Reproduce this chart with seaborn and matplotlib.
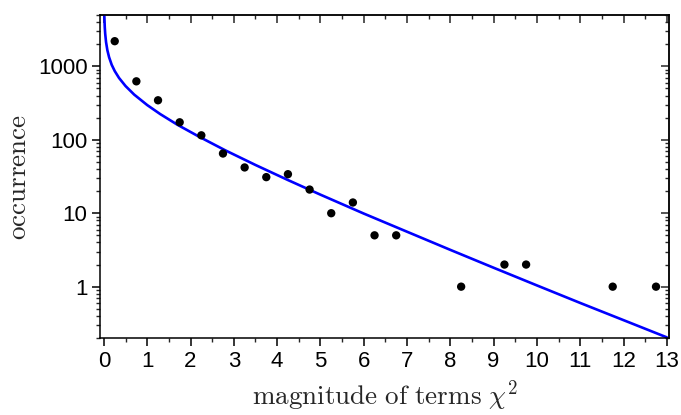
import numpy as np
import pandas as pd
import matplotlib
matplotlib.use("Agg")
import matplotlib.pyplot as plt
import matplotlib.ticker as mticker
import seaborn as sns

# observed histogram (bin centres, counts)
obs_x = [0.25, 0.75, 1.25, 1.75, 2.25, 2.75, 3.25, 3.75, 4.25, 4.75,
         5.25, 5.75, 6.25, 6.75, 8.25, 9.25, 9.75, 11.75, 12.75]
obs_y = [2200, 625, 345, 173, 115, 65, 42, 31, 34, 21,
         10, 14, 5, 5, 1, 2, 2, 1, 1]

# expected curve
fit_x = [0.01, 0.02, 0.03, 0.05, 0.08, 0.12, 0.18, 0.25, 0.35, 0.5, 0.7,
         1.0, 1.3, 1.7, 2.2, 2.8, 3.5, 4.25, 5.0, 6.0, 7.0, 8.0, 9.0,
         10.0, 11.0, 12.0, 13.0]
fit_y = [4860, 3420, 2780, 2130, 1660, 1330, 1050, 863, 694, 539, 412,
         297, 224, 160, 110, 72, 45.4, 28.3, 17.9, 9.9, 5.6, 3.17, 1.81,
         1.04, 0.60, 0.35, 0.204]

x_ticks = list(range(0, 14))
y_ticks = [1, 10, 100, 1000]
y_tick_labels = ["1", "10", "100", "1000"]

sns.set_style("ticks")
plt.rcParams["font.family"] = ["Liberation Sans", "DejaVu Sans"]
plt.rcParams["mathtext.fontset"] = "cm"

fig = plt.figure(figsize=(6.81, 4.15), dpi=100)
ax = fig.add_axes([100 / 681, 1 - 338 / 415, 569 / 681, 323 / 415])

obs = pd.DataFrame({"x": obs_x, "y": obs_y})
fit = pd.DataFrame({"x": fit_x, "y": fit_y})

sns.lineplot(data=fit, x="x", y="y", ax=ax, color="#0000ff", linewidth=1.9,
             estimator=None, sort=True, zorder=2)
sns.scatterplot(data=obs, x="x", y="y", ax=ax, color="black", s=36,
                edgecolor="none", zorder=3)

ax.set_yscale("log")
ax.set_xlim(-0.09, 13.05)
ax.set_ylim(0.2, 5000)

ax.set_xticks(x_ticks)
ax.set_xticklabels([str(t) for t in x_ticks])
ax.xaxis.set_minor_locator(mticker.MultipleLocator(0.5))
ax.set_yticks(y_ticks)
ax.set_yticklabels(y_tick_labels)
ax.yaxis.set_minor_locator(mticker.LogLocator(base=10, subs=np.arange(2, 10)))
ax.yaxis.set_minor_formatter(mticker.NullFormatter())

for s in ax.spines.values():
    s.set_linewidth(1.1)
    s.set_color("black")

ax.tick_params(axis="both", which="major", direction="out", length=6, width=1.1,
               labelsize=16, colors="black", pad=3)
ax.tick_params(axis="both", which="minor", direction="out", length=3, width=1.0)

# mirrored ticks on top/right pointing inwards
top = ax.secondary_xaxis("top")
top.set_xticks(x_ticks)
top.xaxis.set_minor_locator(mticker.MultipleLocator(0.5))
top.tick_params(axis="x", which="major", direction="in", length=6, width=1.1, labeltop=False)
top.tick_params(axis="x", which="minor", direction="in", length=3, width=1.0)
top.spines["top"].set_linewidth(1.1)

right = ax.secondary_yaxis("right")
right.set_yticks(y_ticks)
right.yaxis.set_minor_locator(mticker.LogLocator(base=10, subs=np.arange(2, 10)))
right.yaxis.set_minor_formatter(mticker.NullFormatter())
right.tick_params(axis="y", which="major", direction="in", length=6, width=1.1, labelright=False)
right.tick_params(axis="y", which="minor", direction="in", length=3, width=1.0)
right.spines["right"].set_linewidth(1.1)

ax.set_xlabel(r"$\mathrm{magnitude\ of\ terms}\ \chi^2$", fontsize=19.5, labelpad=5)
ax.set_ylabel(r"$\mathrm{occurrence}$", fontsize=19.5, labelpad=4)

fig.savefig("out.png", dpi=100)
